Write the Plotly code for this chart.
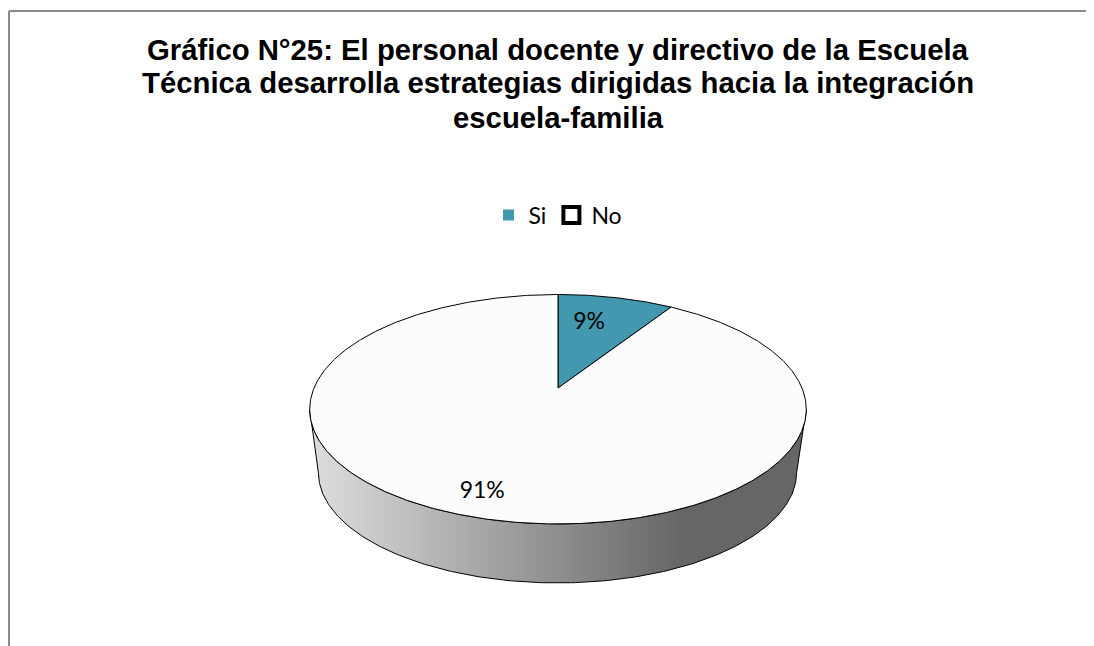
import numpy as np
import plotly.graph_objects as go

# ---- data ----
categories = ["Si", "No"]
values = [9, 91]
slice_colors = ["#4198af", "#fcfcfc"]
title_lines = [
    "Gráfico N°25: El personal docente y directivo de la Escuela",
    "Técnica desarrolla estrategias dirigidas hacia la integración",
    "escuela-familia",
]

# ---- geometry / style (page pixel space, y grows downward) ----
W, H = 1094, 646
OFF = 8  # browser body margin
TOP = dict(cx=558.0, cy=388.0, rx=244.0, ry=110.8)
BOT = dict(cx=557.5, cy=452.0, rx=235.0, ry=106.7)
PERSP = 0.185
LABEL_R = [0.675, 0.843]
LABEL_SHIFT = [-4.0, 2.1]  # degrees


def project(theta_deg, r=1.0, face=TOP):
    t = np.radians(np.asarray(theta_deg, dtype=float))
    u = r * np.sin(t)
    v = r * np.cos(t)
    s = 1.0 / (1.0 + PERSP * v)
    return face["cx"] + face["rx"] * u * s, face["cy"] - face["ry"] * v * s


total = float(sum(values))
fig = go.Figure()

# side wall of the pie (front part, belongs to the "No" slice)
ts = np.degrees(np.arccos(-PERSP))
arc_top = np.linspace(ts, 360 - ts, 200)
xt, yt = project(arc_top, face=TOP)
xb, yb = project(arc_top[::-1], face=BOT)
fig.add_trace(go.Scatter(
    x=np.concatenate([xt, xb, xt[:1]]), y=np.concatenate([yt, yb, yt[:1]]),
    mode="lines", fill="toself",
    fillgradient=dict(type="horizontal",
                      colorscale=[[0, "#dedede"], [0.75, "#666666"], [1, "#666666"]]),
    line=dict(color="black", width=1), hoverinfo="skip", showlegend=False,
))

# top face slices
start = 0.0
label_pos = []
for i, (cat, val) in enumerate(zip(categories, values)):
    span = 360.0 * val / total
    ang = np.linspace(start, start + span, max(int(span * 2), 10))
    ax_, ay_ = project(ang, face=TOP)
    xs = np.concatenate([[TOP["cx"]], ax_, [TOP["cx"]]])
    ys = np.concatenate([[TOP["cy"]], ay_, [TOP["cy"]]])
    fig.add_trace(go.Scatter(
        x=xs, y=ys, mode="lines", fill="toself", fillcolor=slice_colors[i],
        line=dict(color="black", width=1), name=cat, hoverinfo="name",
        showlegend=False,
    ))
    label_pos.append(project(start + span / 2 + LABEL_SHIFT[i], r=LABEL_R[i], face=TOP))
    start += span

# percentage labels
fig.add_trace(go.Scatter(
    x=[p[0] for p in label_pos], y=[p[1] for p in label_pos], mode="text",
    text=[f"{round(100 * v / total)}%" for v in values],
    textfont=dict(family="Lato", size=23, color="black"),
    hoverinfo="skip", showlegend=False,
))

# legend entries
fig.add_trace(go.Scatter(
    x=[None], y=[None], mode="markers", name=categories[0],
    marker=dict(symbol="square", size=11, color=slice_colors[0]),
))
fig.add_trace(go.Scatter(
    x=[None], y=[None], mode="markers", name=categories[1],
    marker=dict(symbol="square", size=16, color="white",
                line=dict(color="black", width=4)),
))

# title lines
for line, yc in zip(title_lines, [49, 82, 117]):
    fig.add_annotation(
        x=558, y=yc, xref="x", yref="y", text=f"<b>{line}</b>", showarrow=False,
        xanchor="center", yanchor="middle",
        font=dict(family="Liberation Sans", size=29.3, color="black"),
    )

# frame lines
fig.add_shape(type="line", xref="x", yref="y", x0=9, y0=11, x1=W, y1=11,
              line=dict(color="#8a8a8a", width=2))
fig.add_shape(type="line", xref="x", yref="y", x0=9, y0=11, x1=9, y1=H,
              line=dict(color="#8a8a8a", width=2))

PW, PH = W - OFF, H - OFF
fig.update_layout(
    width=PW, height=PH, margin=dict(l=0, r=0, t=0, b=0),
    paper_bgcolor="white", plot_bgcolor="white",
    xaxis=dict(range=[OFF, W], visible=False, fixedrange=True),
    yaxis=dict(range=[H, OFF], visible=False, fixedrange=True),
    showlegend=True,
    legend=dict(orientation="h", x=(558 - OFF) / PW, xanchor="center",
                y=1 - (215 - OFF) / PH, yanchor="middle",
                font=dict(family="Lato", size=23, color="black"),
                bgcolor="rgba(0,0,0,0)", itemwidth=30),
)

fig.write_html("out.html")
